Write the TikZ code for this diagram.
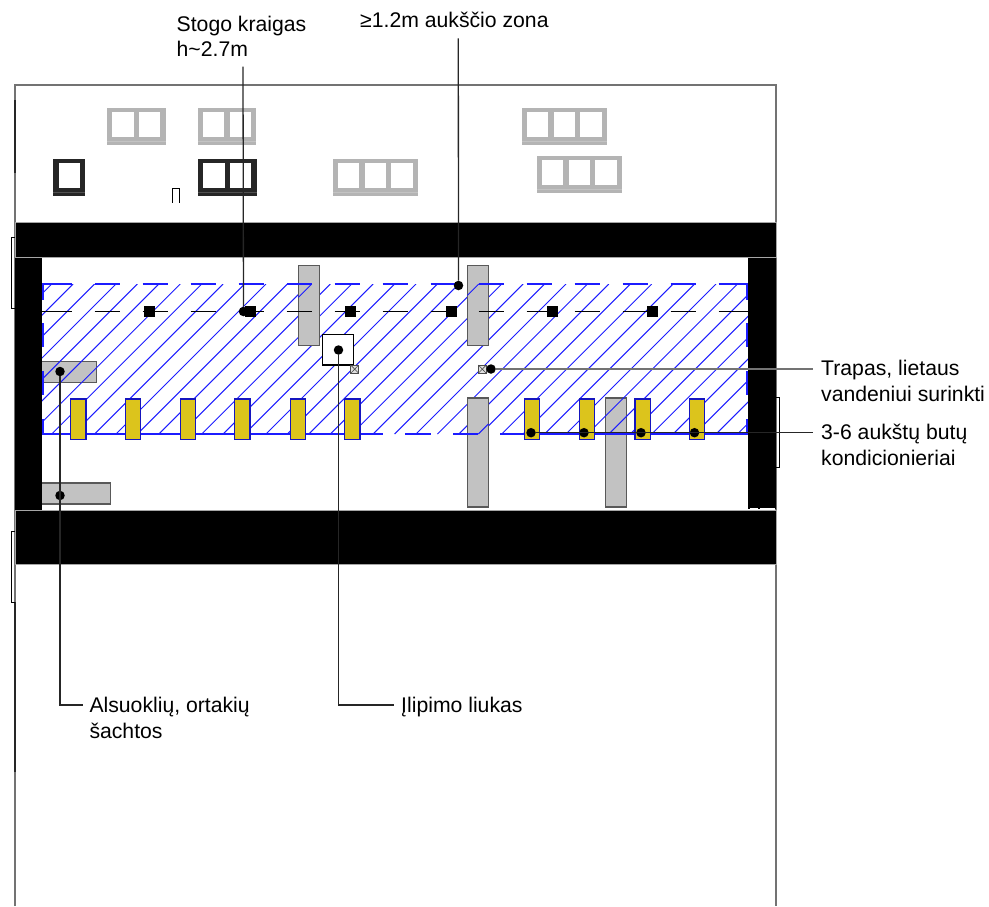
\documentclass[tikz,border=0pt]{standalone}
\usepackage{fontspec}
\setmainfont{Liberation Sans}
\definecolor{shaftgray}{HTML}{C2C2C2}
\definecolor{framegray}{HTML}{B4B4B4}
\definecolor{framedark}{HTML}{262626}
\definecolor{unityellow}{HTML}{DCC41C}
\definecolor{zoneblue}{HTML}{1C1CFF}
\tikzset{
  dot/.style={circle,fill=black,inner sep=0pt,minimum size=9.5pt},
  calloutlabel/.style={anchor=base west,inner sep=0pt,align=left,font=\fontsize{21.2}{25.4}\selectfont},
  leader/.style={line width=1.3pt,black!85},
  shaft/.style={fill=shaftgray,draw=black!65,line width=1.4pt},
  unitbox/.style={fill=unityellow,draw=zoneblue!75!black,line width=1.3pt},
  drainbox/.style={fill=black!12,draw=black!70,line width=.9pt}
}
% window row: x, top y, panes, frame colour
\newcommand{\windowrow}[4]{
  \fill [#4] (#1,#2) rectangle ++({5.3+26.67*#3},37);
  \draw [white,opacity=.2,line width=.8pt] (#1,#2+33) -- ++({5.3+26.67*#3},0);
  \foreach \pane in {1,...,#3}
    \fill [white] ({#1+5.3+26.67*(\pane-1)},#2+3.5) rectangle ++(21.4,25.5);
}
\begin{document}
\begin{tikzpicture}[x=1pt,y=-1pt]
  \useasboundingbox (0,0) rectangle (989,906);

  % Drawing outer walls
  \draw [line width=1.4pt,black!55] (15,906) -- (15,85) -- (776,85) -- (776,906);
  \draw [line width=1.4pt,black!85] (15,100) -- (15,173);
  \draw [line width=1.4pt,black!85] (15,602) -- (15,772);

  % Drawing windows
  \windowrow{107}{108}{2}{framegray}
  \windowrow{197.7}{108}{2}{framegray}
  \windowrow{53.3}{159}{1}{framedark}
  \windowrow{198}{159}{2}{framedark}
  \windowrow{332.7}{159}{3}{framegray}
  \windowrow{521.7}{108}{3}{framegray}
  \windowrow{536.7}{156}{3}{framegray}
  \draw [line width=1pt] (172.5,202.5) -- (172.5,188.5) -- (179.5,188.5) -- (179.5,202.5);

  % Drawing small side brackets
  \draw [line width=1pt] (15,237.3) -- (11.5,237.3) -- (11.5,308.3) -- (15,308.3);
  \draw [line width=1pt] (15,531.7) -- (11.5,531.7) -- (11.5,602.3) -- (15,602.3);
  \draw [line width=1pt] (776,397.3) -- (779,397.3) -- (779,467.3) -- (776,467.3);

  % Drawing shafts under the hatch
  \draw [shaft] (605.7,398) rectangle (626.7,507);
  \draw [shaft] (41,361.7) rectangle (96.7,382.7);
  \draw [shaft] (41,483) rectangle (110.3,504);

  % Drawing zone hatch
  \begin{scope}
    \clip (42,284) rectangle (748,434);
    \foreach \hx in {0,...,40}
      \draw [zoneblue,line width=1pt] ({51.7+21.43*\hx},284) -- ++(-150,150);
  \end{scope}

  % Drawing shafts over the hatch
  \draw [shaft] (298.3,265.7) rectangle (319.7,345.5);
  \draw [shaft] (467.3,265.7) rectangle (488.3,345.5);
  \draw [shaft] (467.3,398) rectangle (488.3,507);
  \draw [zoneblue,line width=1pt] (311.7,284) -- (298.3,297.4);
  \draw [zoneblue,line width=1pt] (478.7,284) -- (467.3,295.4);
  \draw [zoneblue,line width=1pt] (478.3,434) -- (488.3,424);

  % Drawing black walls
  \fill [black] (15,258) rectangle (41.7,510);
  \fill [black] (747.7,258) rectangle (776,509);
  \draw [fill=black,draw=black!35,line width=.8pt] (15,222.7) rectangle (776,257.7);
  \draw [fill=black,draw=black!35,line width=.8pt] (15,510.7) rectangle (776,564.7);
  \fill [white] (750,507.5) rectangle (758,509.5);
  \fill [white] (760,507.5) rectangle (775,509.5);

  % Drawing zone border
  \foreach \bx in {94.7,142.7,190.7,238.7,286.7,334.7,382.7,430.7,478.7,526.7,574.7,622.7,670.7}
    \draw [zoneblue,line width=2pt] (\bx,284) -- ++(25,0);
  \draw [zoneblue,line width=2pt] (42,284) -- (72,284);
  \draw [zoneblue,line width=2pt] (718.7,284) -- (748,284);
  \draw [zoneblue,line width=2pt] (42,433.7) -- (382.7,433.7);
  \draw [zoneblue,line width=2pt] (405,433.7) -- (431,433.7);
  \draw [zoneblue,line width=2pt] (453,433.7) -- (478.3,433.7);
  \draw [zoneblue,line width=2pt] (500,433.7) -- (748,433.7);
  \foreach \bxx in {42.7,747}
    \foreach \bya/\byb in {284/300,323/347,371/395,419/433.7}
      \draw [zoneblue,line width=2pt] (\bxx,\bya) -- (\bxx,\byb);

  % Drawing ridge line
  \foreach \rx in {94.7,142.7,190.7,238.7,286.7,334.7,382.7,430.7,478.7,526.7,574.7,622.7,670.7}
    \draw [line width=1.5pt] (\rx,311.7) -- ++(25,0);
  \draw [line width=1.5pt] (42,311.7) -- (72,311.7);
  \draw [line width=1.5pt] (718.7,311.7) -- (748,311.7);
  \foreach \rx in {149,250,350.5,451.5,552,652.7}
    \fill (\rx-5.5,306) rectangle ++(11,11);

  % Drawing hatch and drains
  \draw [fill=white,draw=black,line width=1.1pt] (322.7,334.3) rectangle (353.3,365);
  \foreach \dx in {350.7,478.3}{
    \draw [drainbox] (\dx,365) rectangle ++(8,8.3);
    \draw [line width=.6pt,black!70] (\dx,365) -- ++(8,8.3) (\dx+8,365) -- ++(-8,8.3);
  }

  % Drawing air conditioner units
  \foreach \ux in {70.7,125.3,180.3,234.7,290.3,344.7,524.3,579.3,635,689.3}
    \draw [unitbox] (\ux,399) rectangle ++(15.3,40.3);

  % Marking points by dots
  \node [dot] (ridgedot) at (243.5,311.5) {};
  \node [dot] (zonedot) at (458.5,285.5) {};
  \node [dot] (hatchdot) at (338.5,350) {};
  \node [dot] (draindot) at (491,369) {};
  \node [dot] (ductdota) at (60,371.5) {};
  \node [dot] (ductdotb) at (60,495.5) {};
  \node [dot] (unitdota) at (531,432.7) {};
  \node [dot] (unitdotb) at (584,432.7) {};
  \node [dot] (unitdotc) at (641,432.7) {};
  \node [dot] (unitdotd) at (694.5,432.7) {};

  % Writing labels
  \node [calloutlabel] (ridgelabel) at (176.5,56.7) {Stogo kraigas\\h\textasciitilde 2.7m};
  \node [calloutlabel] (zonelabel) at (360,27.3) {≥1.2m aukščio zona};
  \node [calloutlabel] (drainlabel) at (821,401) {Trapas, lietaus\\vandeniui surinkti};
  \node [calloutlabel] (unitlabel) at (821,465) {3-6 aukštų butų\\kondicionieriai};
  \node [calloutlabel] (ductlabel) at (89.3,738.3) {Alsuoklių, ortakių\\šachtos};
  \node [calloutlabel] (hatchlabel) at (401,712.7) {Įlipimo liukas};

  % Drawing leader lines
  \coordinate (ridgetop) at (243,66.7);
  \coordinate (zonetop) at (458.3,38.3);
  \coordinate (drainend) at (813.3,369);
  \coordinate (unitend) at (813.3,432.7);
  \coordinate (ductelbow) at (60,705);
  \coordinate (ductend) at (83.3,705);
  \coordinate (hatchelbow) at (338.5,705);
  \coordinate (hatchend) at (394,705);
  \draw [leader] (ridgetop) -- (ridgedot);
  \draw [leader] (zonetop) -- (zonedot);
  \draw [leader,black!55] (draindot) -- (drainend);
  \draw [leader] (unitdota) -- (unitend);
  \draw [leader] (ductdota) -- (ductelbow) -- (ductend);
  \draw [leader] (hatchdot) -- (hatchelbow) -- (hatchend);
\end{tikzpicture}
\end{document}
